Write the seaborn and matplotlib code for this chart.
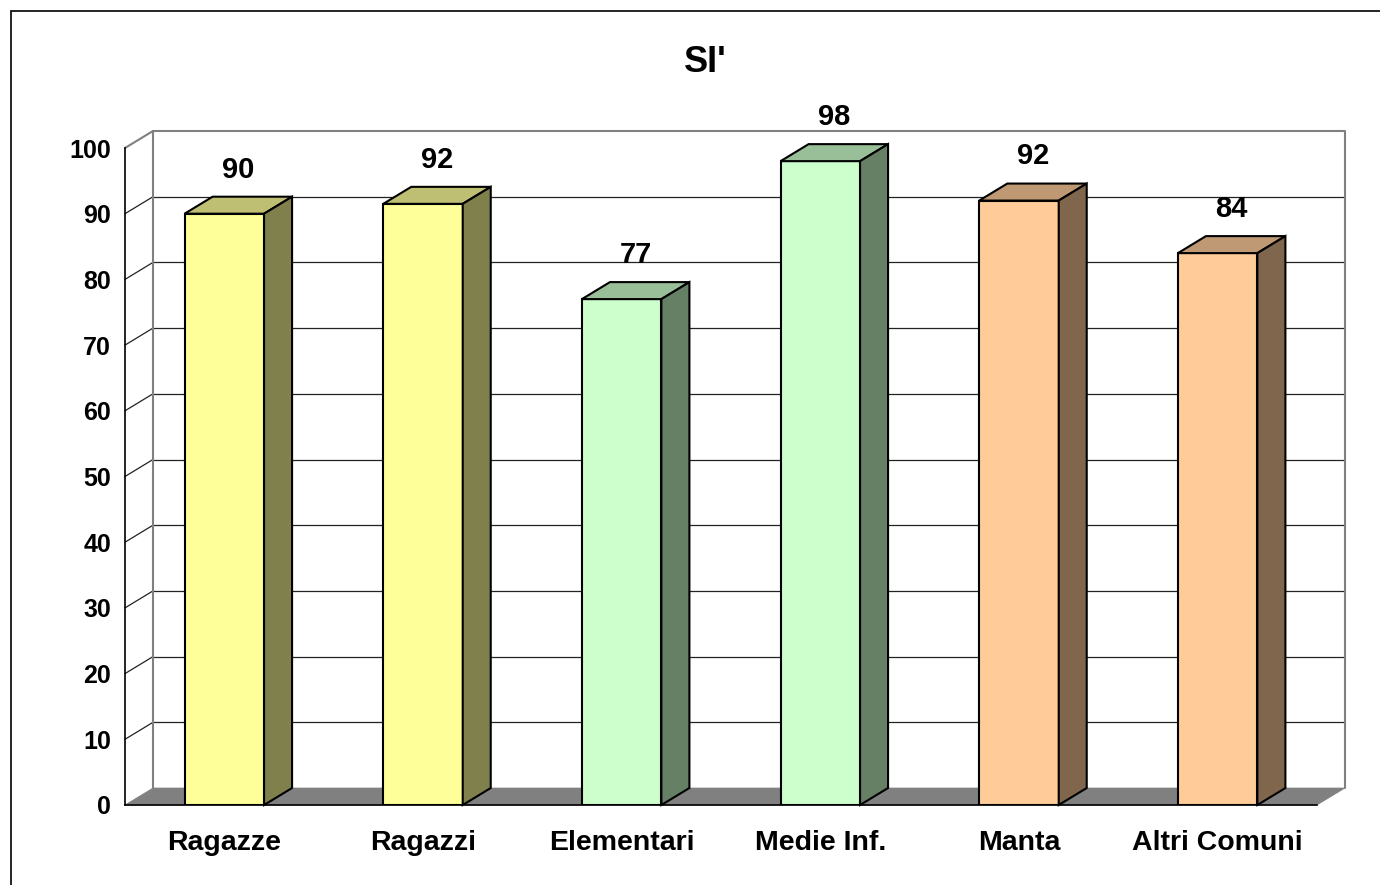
import matplotlib
matplotlib.use('Agg')
import matplotlib.pyplot as plt
import seaborn as sns
from matplotlib.patches import Polygon, Rectangle

# data
categories = ['Ragazze', 'Ragazzi', 'Elementari', 'Medie Inf.', 'Manta', 'Altri Comuni']
values = [90, 91.5, 77, 98, 92, 84]
labels = ['90', '92', '77', '98', '92', '84']
front_colors = ['#FFFF99', '#FFFF99', '#CCFFCC', '#CCFFCC', '#FFCC99', '#FFCC99']
top_colors = ['#BFBF73', '#BFBF73', '#99BF99', '#99BF99', '#BF9973', '#BF9973']
side_colors = ['#80804D', '#80804D', '#668066', '#668066', '#80664D', '#80664D']
y_ticks = list(range(0, 101, 10))

sns.set_style('white')
plt.rcParams['font.family'] = ['Liberation Sans', 'DejaVu Sans']
plt.rcParams['text.color'] = 'black'
plt.rcParams['xtick.labelcolor'] = 'black'
plt.rcParams['ytick.labelcolor'] = 'black'

W, H = 1380, 885
fig = plt.figure(figsize=(W / 100, H / 100), dpi=100)
ax = fig.add_axes([125 / W, (H - 805) / H, 1192 / W, (805 - 148) / H])

# depth of the 3D effect in data units
dx = 28 / (1192 / 6)
dy = 17 / ((805 - 148) / 100)

x0, x1 = -0.5, len(categories) - 0.5

# back wall with gridlines
for v in y_ticks[1:-1]:
    ax.plot([x0 + dx, x1 + dx], [v + dy, v + dy], color='#222222', lw=0.9, zorder=1, clip_on=False)
    ax.plot([x0, x0 + dx], [v, v + dy], color='#222222', lw=0.9, zorder=1, clip_on=False)
ax.plot([x0, x0 + dx, x1 + dx, x1 + dx], [100, 100 + dy, 100 + dy, dy], color='#808080', lw=1.5, zorder=1, clip_on=False)
ax.plot([x0 + dx, x0 + dx], [dy, 100 + dy], color='#808080', lw=1.5, zorder=1, clip_on=False)

# front faces of bars
sns.barplot(x=categories, y=values, hue=categories, palette=front_colors, width=0.4, saturation=1,
            edgecolor='black', linewidth=1.5, legend=False, ax=ax, zorder=3)
bars = [p for p in ax.patches if isinstance(p, Rectangle) and p.get_height() > 0]

# floor
ax.add_patch(Polygon([[x0, 0], [x1, 0], [x1 + dx, dy], [x0 + dx, dy]], closed=True,
                     facecolor='#808080', edgecolor='#808080', lw=0.5, zorder=1.5, clip_on=False))

for i, p in enumerate(bars):
    bx, bw, bh = p.get_x(), p.get_width(), p.get_height()
    top = Polygon([[bx, bh], [bx + dx, bh + dy], [bx + bw + dx, bh + dy], [bx + bw, bh]], closed=True,
                  facecolor=top_colors[i], edgecolor='black', lw=1.5, zorder=3, clip_on=False)
    side = Polygon([[bx + bw, 0], [bx + bw + dx, dy], [bx + bw + dx, bh + dy], [bx + bw, bh]], closed=True,
                   facecolor=side_colors[i], edgecolor='black', lw=1.5, zorder=3, clip_on=False)
    ax.add_patch(top)
    ax.add_patch(side)
    ax.text(bx + bw / 2 + dx / 2, bh + dy + 2.0, labels[i], ha='center', va='bottom',
            fontsize=21, fontweight='bold', clip_on=False)

ax.set_xlim(x0, x1)
ax.set_ylim(0, 100)
ax.set_yticks(y_ticks)
ax.set_yticklabels([str(t) for t in y_ticks], fontsize=18, fontweight='bold')
ax.set_xticks(range(len(categories)))
ax.set_xticklabels(categories, fontsize=20.5, fontweight='bold')
ax.set_xticks([x0 + k for k in range(len(categories) + 1)], minor=True)
ax.tick_params(axis='x', which='major', length=0, pad=18, labelcolor='black')
ax.tick_params(axis='x', which='minor', length=9, width=1, color='#404040', direction='out')
ax.tick_params(axis='y', length=7, width=1, color='#404040', direction='out', pad=3, labelcolor='black')
ax.set_xlabel('')
ax.set_ylabel('')
ax.set_facecolor('none')
for s in ['top', 'right']:
    ax.spines[s].set_visible(False)
for s in ['left', 'bottom']:
    ax.spines[s].set_color('black')
    ax.spines[s].set_linewidth(1.2)
    ax.spines[s].set_zorder(2)

fig.text(705 / W, 1 - 62 / H, "SI'", ha='center', va='center', fontsize=26, fontweight='bold', color='black')

# outer chart border
fig.add_artist(Rectangle((11 / W, -0.05), 1.2, 1 - 11 / H + 0.05, transform=fig.transFigure,
                         fill=False, edgecolor='black', lw=1.2))

fig.savefig('out.png', dpi=100)
